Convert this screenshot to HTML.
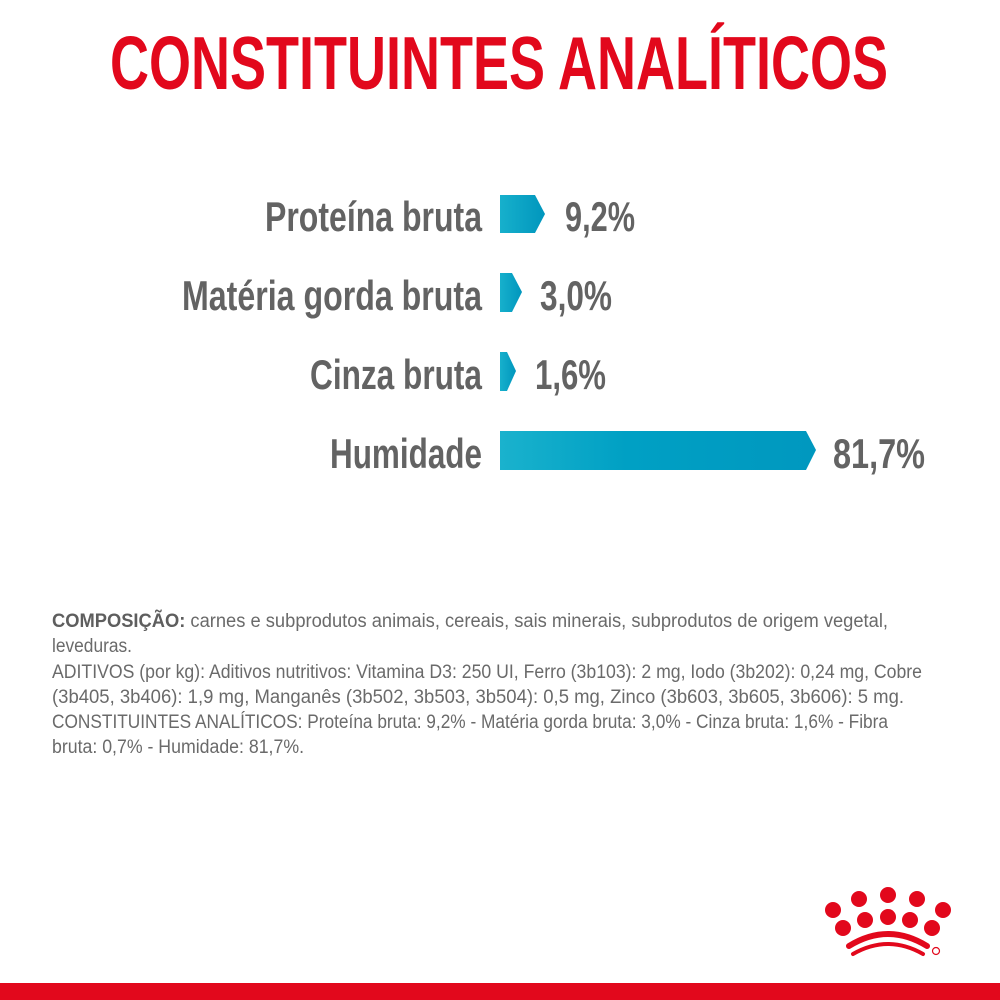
<!DOCTYPE html>
<html><head><meta charset="utf-8"><style>
html,body{margin:0;padding:0;background:#fff;}
svg{display:block}
</style></head><body>
<svg width="1000" height="1000" viewBox="0 0 1000 1000" xmlns="http://www.w3.org/2000/svg">
<defs>
<linearGradient id="g" x1="0" x2="1" y1="0" y2="0">
<stop offset="0" stop-color="#17b0cc"/><stop offset="1" stop-color="#0096bd"/>
</linearGradient>
<linearGradient id="g2" x1="0" x2="1" y1="0" y2="0">
<stop offset="0" stop-color="#1ab2cd"/><stop offset="0.4" stop-color="#00a0c4"/><stop offset="1" stop-color="#0098bf"/>
</linearGradient>
</defs>
<rect width="1000" height="1000" fill="#fff"/>
<text x="110" y="89" font-family="Liberation Sans" font-weight="bold" font-size="75" fill="#e2081c" textLength="778" lengthAdjust="spacingAndGlyphs">CONSTITUINTES ANALÍTICOS</text>

<g font-family="Liberation Sans" font-weight="bold" font-size="42" fill="#636363">
<text x="265" y="231" textLength="217" lengthAdjust="spacingAndGlyphs">Proteína bruta</text>
<text x="182" y="310" textLength="300" lengthAdjust="spacingAndGlyphs">Matéria gorda bruta</text>
<text x="310" y="389" textLength="172" lengthAdjust="spacingAndGlyphs">Cinza bruta</text>
<text x="330" y="468" textLength="152" lengthAdjust="spacingAndGlyphs">Humidade</text>
<text x="565" y="231" textLength="70" lengthAdjust="spacingAndGlyphs">9,2%</text>
<text x="540" y="310" textLength="72" lengthAdjust="spacingAndGlyphs">3,0%</text>
<text x="535" y="389" textLength="71" lengthAdjust="spacingAndGlyphs">1,6%</text>
<text x="833" y="468" textLength="92" lengthAdjust="spacingAndGlyphs">81,7%</text>
</g>

<polygon points="500,195 535,195 545,214 535,233 500,233" fill="url(#g)"/>
<polygon points="500,273 512,273 522,292 512,312 500,312" fill="url(#g)"/>
<polygon points="500,352 507,352 516,371 507,391 500,391" fill="url(#g)"/>
<polygon points="500,431 806,431 816,450 806,470 500,470" fill="url(#g2)"/>

<g font-family="Liberation Sans" font-size="19" fill="#6a6a6a">
<text x="52" y="627" textLength="836" lengthAdjust="spacingAndGlyphs"><tspan font-weight="bold" fill="#5e5e5e">COMPOSIÇÃO:</tspan> carnes e subprodutos animais, cereais, sais minerais, subprodutos de origem vegetal,</text>
<text x="52" y="652" textLength="80" lengthAdjust="spacingAndGlyphs">leveduras.</text>
<text x="52" y="678" textLength="870" lengthAdjust="spacingAndGlyphs">ADITIVOS (por kg): Aditivos nutritivos: Vitamina D3: 250 UI, Ferro (3b103): 2 mg, Iodo (3b202): 0,24 mg, Cobre</text>
<text x="52" y="703" textLength="852" lengthAdjust="spacingAndGlyphs">(3b405, 3b406): 1,9 mg, Manganês (3b502, 3b503, 3b504): 0,5 mg, Zinco (3b603, 3b605, 3b606): 5 mg.</text>
<text x="52" y="728" textLength="836" lengthAdjust="spacingAndGlyphs">CONSTITUINTES ANALÍTICOS: Proteína bruta: 9,2% - Matéria gorda bruta: 3,0% - Cinza bruta: 1,6% - Fibra</text>
<text x="52" y="753" textLength="252" lengthAdjust="spacingAndGlyphs">bruta: 0,7% - Humidade: 81,7%.</text>
</g>

<g fill="#e2081c">
<circle cx="833" cy="910" r="8"/><circle cx="859" cy="899" r="8"/><circle cx="888" cy="895" r="8"/><circle cx="917" cy="899" r="8"/><circle cx="943" cy="910" r="8"/>
<circle cx="843" cy="928" r="8"/><circle cx="865" cy="920" r="8"/><circle cx="888" cy="917" r="8"/><circle cx="910" cy="920" r="8"/><circle cx="932" cy="928" r="8"/>
</g>
<path d="M849,946 Q888,922 927,946" stroke="#e2081c" stroke-width="6" fill="none" stroke-linecap="round"/>
<path d="M853,954 Q888,934 923,954" stroke="#e2081c" stroke-width="4" fill="none" stroke-linecap="round"/>
<circle cx="936" cy="951" r="3.5" fill="none" stroke="#e2081c" stroke-width="1.2"/>
<rect x="0" y="983" width="1000" height="17" fill="#e2081c"/>
</svg>
</body></html>
